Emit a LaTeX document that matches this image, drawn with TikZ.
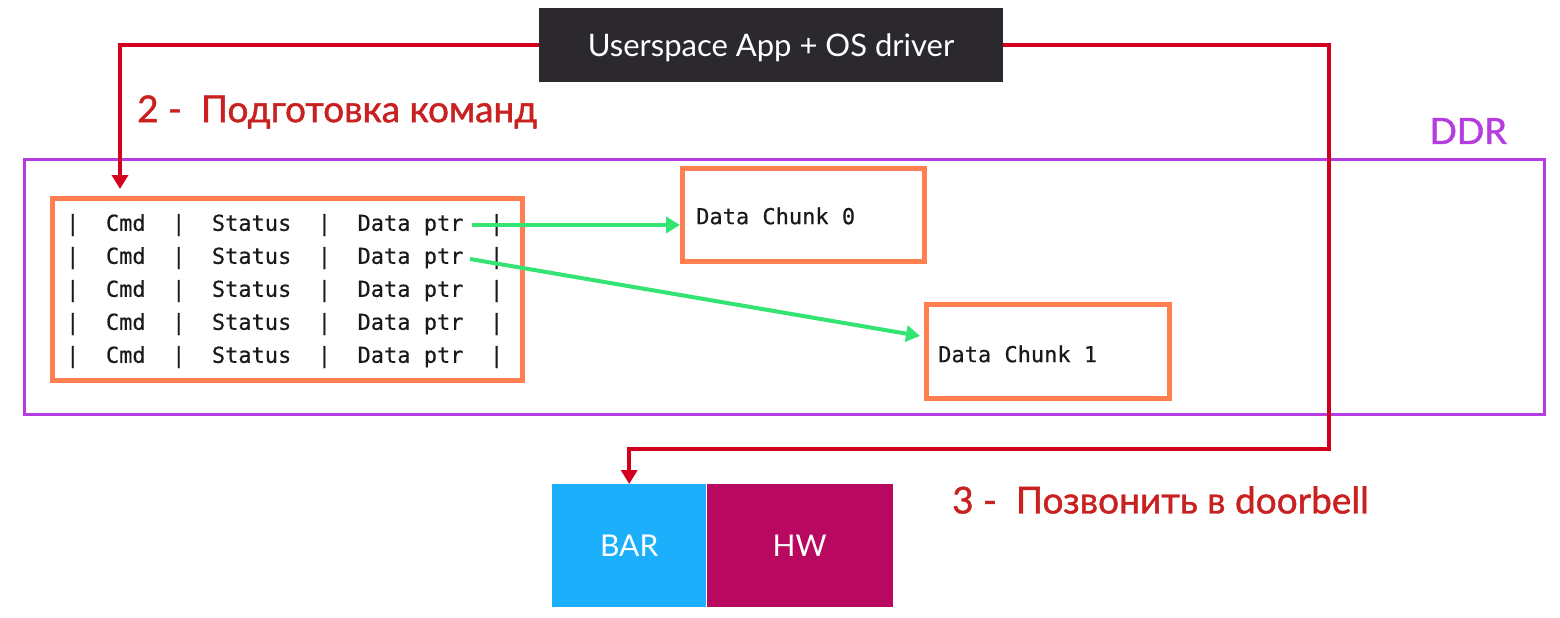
\documentclass[tikz,border=0pt]{standalone}
\usepackage{fontspec}
\setmainfont{Lato}
\newfontfamily\medfont{Lato}[FakeBold=1.2]
\newfontfamily\codefont{DejaVu Sans Mono}[FakeBold=0.4]
\usetikzlibrary{arrows.meta}
\definecolor{appbg}{HTML}{2B292E}
\definecolor{redline}{HTML}{D2001E}
\definecolor{redtext}{HTML}{C92020}
\definecolor{ddrpurple}{HTML}{B43CE0}
\definecolor{boxorange}{HTML}{FF7F50}
\definecolor{arrgreen}{HTML}{33E472}
\definecolor{barblue}{HTML}{1CB0FC}
\definecolor{hwmag}{HTML}{B80860}
\definecolor{codeblack}{HTML}{1A1A1A}
\tikzset{
  x=1pt, y=-1pt,
  redconn/.style={draw=redline, line width=4pt, -{Triangle[length=14pt,width=16pt]}},
  greenconn/.style={draw=arrgreen, line width=4pt, -{Triangle[length=14pt,width=16pt]}},
  obox/.style={draw=boxorange, line width=5pt, inner sep=0pt},
  coderow/.style={font=\codefont\fontsize{22}{26}\selectfont, text=codeblack, anchor=west, inner sep=0pt},
  steplabel/.style={font=\medfont\fontsize{37}{44}\selectfont, text=redtext, anchor=west, inner sep=0pt},
  hwbox/.style={inner sep=0pt, text=white, font=\fontsize{30}{36}\selectfont}
}
\begin{document}
\begin{tikzpicture}
\useasboundingbox[fill=white] (0,0) rectangle (1560,618);
% DDR region
\node[draw=ddrpurple, line width=3pt, minimum width=1520pt, minimum height=255pt, inner sep=0pt, anchor=north west] (ddr) at (23,158) {};
\node[font=\medfont\fontsize{36}{40}\selectfont, text=ddrpurple, anchor=east, inner sep=0pt] (ddrlabel) at (1507,131) {DDR};
% App box
\node[fill=appbg, minimum width=464pt, minimum height=74pt, inner sep=0pt] (app) at (771,45) {};
\node[text=white, font=\fontsize{31}{36}\selectfont, inner sep=0pt] (apptext) at (771,48) {Userspace App + OS driver};
% table
\node[obox, minimum width=470pt, minimum height=182pt, anchor=north west] (tbl) at (50,196) {};
\foreach \i/\y in {1/222,2/255,3/288,4/321,5/354}{
  \node[coderow] (row\i) at (66,\y+3) {|\ \ Cmd\ \ |\ \ Status\ \ |\ \ Data ptr\ \ |};
}
% chunks
\node[obox, minimum width=242pt, minimum height=93pt, anchor=north west] (chunk0) at (680,166) {};
\node[coderow] (c0text) at (696,216) {Data Chunk 0};
\node[obox, minimum width=243pt, minimum height=94pt, anchor=north west] (chunk1) at (924,302) {};
\node[coderow] (c1text) at (938,354) {Data Chunk 1};
% BAR / HW
\node[hwbox, fill=barblue, minimum width=154pt, minimum height=123pt, anchor=north west] (bar) at (552,484) {BAR};
\node[hwbox, fill=hwmag, minimum width=186pt, minimum height=123pt, anchor=north west] (hw) at (bar.north east) {HW};
% labels
\node[steplabel] (lbl2) at (137,112) {2 -\ \ Подготовка команд};
\node[steplabel] (lbl3) at (952,500) {3 -\ \ Позвонить в doorbell};
% connectors
\coordinate (tgt1) at (120,189);
\coordinate (turn3) at (1329,449);
\draw[redconn] (app.west) -| (tgt1);
\draw[redconn] (app.east) -| (turn3) -| (bar.north);
\coordinate (p0) at (472,225);
\coordinate (p1) at (470,259);
\draw[greenconn] (p0) -- (chunk0.west |- p0);
\draw[greenconn] (p1) -- (920,336);
\end{tikzpicture}
\end{document}
